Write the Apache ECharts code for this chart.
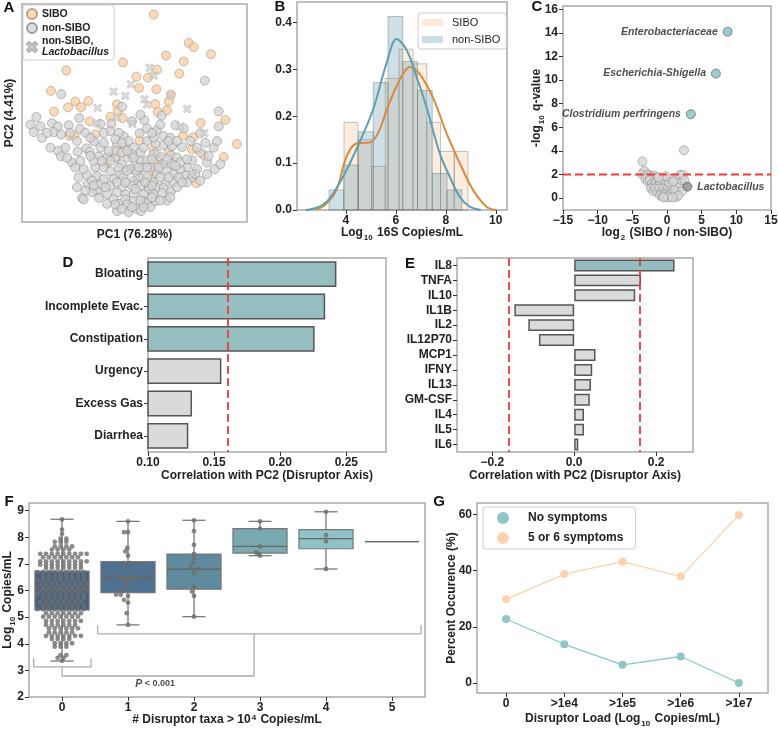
<!DOCTYPE html>
<html>
<head>
<meta charset="utf-8">
<title>Disruptor taxa panels</title>
<script src="https://cdn.jsdelivr.net/npm/echarts@6/dist/echarts.min.js"></script>
<style>
  html, body { margin: 0; padding: 0; background: #fff; }
  #chart { width: 778px; height: 731px; }
</style>
</head>
<body>
<div id="chart"></div>
<script>
// ---------- data ----------
// A: PCoA scores (no units on the original axes, so kept in panel units)
const pcaSibo = [[460,37],[565,123],[580,136],[632,157],[497,161],[368,182],[550,179],[198,206],[408,225],[470,204],[537,216],[443,228],[152,268],[416,259],[468,263],[512,279],[505,300],[225,300],[264,299],[161,331],[203,318],[242,318],[350,309],[465,308],[500,327],[353,328],[472,332],[675,356],[601,365],[330,346],[367,350],[268,360],[207,404],[222,404],[285,400],[548,404],[578,409],[710,429],[418,418],[373,440],[460,445],[575,445],[505,452],[610,462],[670,468],[350,466],[320,486],[470,478],[462,510],[588,547],[455,537],[446,557]];
const pcaNonSibo = [[613,237],[183,278],[655,330],[484,343],[108,347],[90,370],[100,393],[155,366],[172,375],[160,393],[182,400],[237,350],[239,383],[300,368],[333,368],[365,316],[432,357],[440,382],[470,386],[490,405],[525,372],[550,382],[510,410],[600,396],[655,376],[418,396],[370,405],[350,430],[385,420],[440,420],[490,432],[515,435],[545,438],[466,428],[258,442],[268,452],[232,452],[195,440],[173,450],[182,466],[215,485],[295,466],[322,468],[345,470],[363,490],[382,470],[405,490],[420,478],[440,478],[480,468],[512,463],[530,470],[575,478],[560,500],[590,505],[643,505],[285,500],[310,500],[330,512],[360,520],[390,505],[410,515],[430,500],[450,500],[470,520],[500,510],[520,520],[540,505],[555,525],[575,530],[260,522],[290,526],[340,535],[370,530],[400,540],[420,530],[460,545],[495,545],[520,545],[560,545],[262,550],[300,552],[330,556],[365,560],[395,556],[420,556],[445,566],[470,562],[490,562],[512,572],[290,572],[320,580],[350,576],[375,582],[400,580],[430,582],[460,580],[485,577],[245,592],[296,592],[340,596],[375,596],[400,602],[430,602],[465,602],[500,600],[350,632],[380,612],[410,626],[422,632],[440,607],[250,596],[205,372],[125,410],[330,390],[355,395],[400,440],[460,410],[420,455],[300,440],[280,480],[240,480],[250,505],[345,450],[365,455],[395,460],[460,460],[485,490],[515,490],[540,485],[620,485],[600,455],[640,440],[395,360],[420,340],[280,420],[310,425],[230,420],[330,480],[380,510],[440,530],[350,545],[310,535],[275,540],[480,530],[535,530],[420,600],[450,620],[385,635],[355,610],[320,610],[275,575],[230,560],[505,420],[530,420],[570,420],[480,370],[455,395],[430,440],
  [270,465],[305,480],[355,500],[375,545],[405,565],[435,545],[455,555],[480,600],[510,590],[530,560],[545,545],[585,520],[600,540],[620,520],[345,612],[365,625],[395,620],[430,620],[455,590],[315,560],[280,555],[255,570],[235,530],[225,500],[200,470],[150,440],[140,395],[120,375],[210,395],[255,395],[270,410],[310,395],[345,415],[365,425],[455,475],[500,475],[525,495],[560,475],[590,440],[625,465],[660,490],[650,420],[615,425],[400,470],[380,450],[440,500],[475,500],[505,530],[415,500],[325,450]];
const pcaLacto = [[448,198],[460,222],[392,248],[340,270],[375,283],[432,293],[440,310],[510,283],[292,320],[560,323],[290,366],[396,368],[540,375],[612,396],[470,456],[492,490],[576,522],[410,530],[388,500],[350,350]];

// B: 16S load histograms (density) and KDE curves
const siboBinEdges = [3.93, 4.48, 5.03, 5.58, 6.13, 6.69, 7.24, 7.79, 8.34, 8.89];
const siboDensity = [0.187, 0.15, 0.093, 0.281, 0.343, 0.312, 0.187, 0.125, 0.125];
const nonSiboBinEdges = [3.33, 3.92, 4.51, 5.10, 5.69, 6.28, 6.87, 7.46, 8.05, 8.64];
const nonSiboDensity = [0.043, 0.096, 0.167, 0.272, 0.413, 0.317, 0.255, 0.078, 0.043];
const siboKdeX = [2.8, 3.2, 3.63, 4.03, 4.43, 4.96, 5.29, 5.69, 6.16, 6.56, 6.96, 7.49, 8.03, 8.56, 9.09, 9.63, 10.0];
const siboKdeY = [0, 0.012, 0.043, 0.114, 0.142, 0.144, 0.164, 0.221, 0.278, 0.305, 0.29, 0.24, 0.164, 0.1, 0.043, 0.007, 0];
const nonSiboKdeX = [2.4, 2.9, 3.36, 3.96, 4.53, 5.09, 5.63, 6.03, 6.43, 6.83, 7.23, 7.76, 8.16, 8.56, 8.96, 9.4];
const nonSiboKdeY = [0, 0.006, 0.025, 0.078, 0.142, 0.214, 0.313, 0.365, 0.342, 0.285, 0.22, 0.121, 0.071, 0.028, 0.007, 0];

// C: volcano plot
const hitNames = ['Enterobacteriaceae', 'Escherichia-Shigella', 'Clostridium perfringens'];
const hitLog2 = [8.75, 7.05, 3.44];
const hitQ = [14.1, 10.55, 7.1];
const lactoPoint = [2.95, 0.96];
const volcanoOther = [[2.45,4.05],[-3.55,3.1],[-3.3,2.3],[-3.6,2.0],[-3.0,1.9],[-2.7,2.0],[-2.4,1.9],[-2.1,1.8],[-1.8,1.9],[-1.5,1.7],[-3.1,1.6],[-2.8,1.4],[-2.5,1.5],[-2.2,1.2],[-1.9,1.1],[-1.6,1.3],[-1.3,1.1],[-1.0,1.3],[-0.7,1.2],[-0.4,1.5],[-0.1,1.2],[-2.3,0.8],[-2.0,0.6],[-1.7,0.8],[-1.4,0.5],[-1.1,0.8],[-0.8,0.5],[-0.5,0.8],[-0.2,0.5],[0.1,0.8],[0.4,0.6],[0.7,1.0],[-1.0,0.2],[-0.6,0.15],[-0.3,0.3],[0.0,0.1],[0.3,0.2],[0.6,0.35],[0.9,0.1],[1.2,0.3],[1.5,0.6],[1.8,1.0],[2.1,1.5],[1.9,1.95],[2.3,1.95],[2.5,1.5],[1.1,0.7],[1.4,0.1],[0.3,1.3],[0.6,1.6],[-0.2,1.85],[0.9,1.4],[-1.2,1.75],[2.2,0.6],[1.6,0.2],[0.1,0.05],[-0.5,0.05],[0.8,0.05]];
const qThreshold = 2;

// D: symptoms vs PC2
const symptoms = ['Bloating', 'Incomplete Evac.', 'Constipation', 'Urgency', 'Excess Gas', 'Diarrhea'];
const symptomCorr = [0.2425, 0.234, 0.226, 0.1555, 0.1333, 0.1305];
const symptomThreshold = 0.16;

// E: cytokines vs PC2
const cytokines = ['IL8', 'TNFA', 'IL10', 'IL1B', 'IL2', 'IL12P70', 'MCP1', 'IFNY', 'IL13', 'GM-CSF', 'IL4', 'IL5', 'IL6'];
const cytoCorr = [0.245, 0.163, 0.149, -0.146, -0.112, -0.086, 0.052, 0.044, 0.041, 0.038, 0.024, 0.024, 0.01];
const cytoThreshold = 0.164;

// F: load by number of disruptor taxa  [group, low whisker, q1, median, q3, high whisker]
const boxStats = [
  [0, 3.35, 5.27, 6.03, 6.73, 8.68],
  [1, 4.71, 5.92, 6.49, 7.09, 8.6],
  [2, 5.02, 6.05, 6.8, 7.37, 8.64],
  [3, 7.31, 7.41, 7.66, 8.33, 8.6],
  [4, 6.81, 7.57, 7.95, 8.29, 8.96],
  [5, 7.84, 7.84, 7.84, 7.84, 7.84]
];
// group 0 swarm as rows: [value, number of dots in the row]
const swarm0Rows = [[8.67,1],[8.29,1],[8.13,1],[7.95,2],[7.83,3],[7.66,4],[7.54,4],[7.38,9],[7.25,7],[7.1,9],[6.97,8],[6.85,7],[6.69,9],[6.53,8],[6.4,9],[6.25,9],[6.11,9],[5.99,9],[5.84,9],[5.71,8],[5.56,8],[5.43,8],[5.3,9],[5.15,7],[5.02,7],[4.86,7],[4.71,6],[4.58,6],[4.43,5],[4.3,7],[4.18,4],[4.02,4],[3.89,3],[3.57,2],[3.47,2],[3.36,1]];
const swarmOther = [[1,8.6],[0.94,8.19],[1.0,8.19],[0.99,7.6],[0.96,7.47],[1.0,7.31],[0.94,7.03],[1.04,7.03],[0.97,6.88],[0.89,6.5],[0.96,6.45],[1.01,6.5],[1.06,6.5],[1.11,6.48],[0.94,6.4],[1.0,6.28],[0.96,6.13],[0.89,6.0],[0.82,5.85],[0.89,5.84],[1.0,5.8],[0.94,5.65],[1.0,5.55],[0.98,5.15],[1.0,4.71],
  [2,8.64],[2,8.23],[2,7.72],[2,7.38],[2,7.22],[1.98,7.03],[1.95,6.85],[2.05,6.82],[2,6.66],[2,6.15],[1.97,5.96],[2.0,5.8],[2,5.02],
  [3,8.6],[3,8.33],[3,7.66],[2.94,7.43],[2.98,7.37],[3,7.31],
  [4,8.96],[4,8.08],[4,7.85],[4,6.81]];
const bracketLeft = [[-0.43,3.45],[-0.43,3.13],[0.44,3.13],[0.44,3.45]];
const bracketRight = [[0.54,4.7],[0.54,4.37],[5.44,4.37],[5.44,4.7]];
const bracketLink = [[0,3.13],[0,2.79],[2.91,2.79],[2.91,4.37]];

// G: symptom occurrence by disruptor load
const loads = ['0', '>1e4', '>1e5', '>1e6', '>1e7'];
const noSymptoms = [22.8, 13.8, 6.5, 9.45, 0];
const fiveSixSymptoms = [29.8, 38.8, 43.2, 37.9, 59.8];

// ---------- styles ----------
const font = 'Liberation Sans, Arial, sans-serif';
const teal = '#96bec1';
const lightGrey = '#d9dadc';
const red = '#f03a3a';
const boxFills = ['#40618a', '#4f7190', '#608b9e', '#78a8b0', '#8fc2c4', '#8fc2c4'];
const nameRich = {
  b: { fontSize: 12, fontWeight: 'bold', fontFamily: font, color: '#222', lineHeight: 14, verticalAlign: 'top' },
  s: { fontSize: 8, fontWeight: 'bold', fontFamily: font, color: '#222', lineHeight: 8, verticalAlign: 'top', padding: [7, 1, 0, 1] },
  p: { fontSize: 8, fontWeight: 'bold', fontFamily: font, color: '#222', lineHeight: 8, verticalAlign: 'top', padding: [0, 1, 0, 1] }
};
const nameStyle = { fontSize: 12, fontWeight: 'bold', fontFamily: font, color: '#222', rich: nameRich };

function grid(left, top, width, height) {
  return { left, top, width, height, show: true, borderColor: '#aaa', borderWidth: 1.5, containLabel: false, outerBoundsMode: 'none' };
}

function valueAxis(gridIndex, min, max, ticks, extra, fmt) {
  return Object.assign({
    type: 'value', gridIndex, min, max,
    axisLine: { show: false, onZero: false },
    splitLine: { show: false },
    axisTick: { show: true, length: 4, lineStyle: { color: '#333' }, customValues: ticks },
    axisLabel: { customValues: ticks, fontSize: 12, fontWeight: 'bold', fontFamily: font, color: '#222', margin: 5, formatter: fmt },
    nameLocation: 'middle', nameTextStyle: nameStyle, nameMoveOverlap: false
  }, extra || {});
}

function categoryAxis(gridIndex, data, extra) {
  return Object.assign({
    type: 'category', gridIndex, data,
    axisLine: { show: false, onZero: false },
    splitLine: { show: false },
    axisTick: { show: true, alignWithLabel: true, interval: 0, length: 4, lineStyle: { color: '#333' } },
    axisLabel: { interval: 0, fontSize: 12, fontWeight: 'bold', fontFamily: font, color: '#222', margin: 5 },
    nameLocation: 'middle', nameTextStyle: nameStyle, nameMoveOverlap: false
  }, extra || {});
}

const minus = v => (v < 0 ? '\u2212' + Math.abs(v) : String(v));
const fixed = d => v => (v < 0 ? '\u2212' + Math.abs(v).toFixed(d) : v.toFixed(d));

// histogram bar from [x0, x1, height]
function histItem(fill) {
  return function (params, api) {
    const a = api.coord([api.value(0), api.value(2)]);
    const b = api.coord([api.value(1), 0]);
    return { type: 'rect', shape: { x: a[0], y: a[1], width: b[0] - a[0], height: b[1] - a[1] },
      style: { fill, stroke: 'rgba(90,90,90,0.35)', lineWidth: 1 } };
  };
}

// seaborn-like box
function boxItem(params, api) {
  const i = api.value(0), lo = api.value(1), q1 = api.value(2), med = api.value(3), q3 = api.value(4), hi = api.value(5);
  const half = 0.41, cap = 0.175;
  const tl = api.coord([i - half, q3]), br = api.coord([i + half, q1]);
  const m0 = api.coord([i - half, med]), m1 = api.coord([i + half, med]);
  const top = api.coord([i, hi]), bot = api.coord([i, lo]);
  const ct0 = api.coord([i - cap, hi]), ct1 = api.coord([i + cap, hi]);
  const cb0 = api.coord([i - cap, lo]), cb1 = api.coord([i + cap, lo]);
  const line = { stroke: '#7a7a7a', lineWidth: 1.3 };
  const children = [
    { type: 'line', shape: { x1: top[0], y1: top[1], x2: top[0], y2: tl[1] }, style: line },
    { type: 'line', shape: { x1: bot[0], y1: br[1], x2: bot[0], y2: bot[1] }, style: line },
    { type: 'rect', shape: { x: tl[0], y: tl[1], width: br[0] - tl[0], height: br[1] - tl[1] },
      style: { fill: boxFills[i], stroke: '#777', lineWidth: 1.2 } },
    { type: 'line', shape: { x1: m0[0], y1: m0[1], x2: m1[0], y2: m1[1] }, style: { stroke: '#666', lineWidth: 1.3 } }
  ];
  if (hi > q3) children.push({ type: 'line', shape: { x1: ct0[0], y1: ct0[1], x2: ct1[0], y2: ct1[1] }, style: line });
  if (lo < q1) children.push({ type: 'line', shape: { x1: cb0[0], y1: cb0[1], x2: cb1[0], y2: cb1[1] }, style: line });
  return { type: 'group', children };
}

// spread each swarm row sideways, staggering alternate rows
const swarmStep = 0.088;
const swarm0 = [];
swarm0Rows.forEach(([y, n], r) => {
  const shift = (r % 2 ? 0.5 : -0.5) * swarmStep / 2;
  for (let k = 0; k < n; k++) swarm0.push([(k - (n - 1) / 2) * swarmStep + (n > 1 ? shift : 0), y]);
});

const crossPath = 'path://M2,0 L5,3 L8,0 L10,2 L7,5 L10,8 L8,10 L5,7 L2,10 L0,8 L3,5 L0,2 Z';
const letter = (t, x, y) => ({ type: 'text', x, y, style: { text: t, fontSize: 15, fontWeight: 'bold', fontFamily: font, fill: '#111', align: 'center', verticalAlign: 'middle' } });

const chart = echarts.init(document.getElementById('chart'));
chart.setOption({
  animation: false,
  backgroundColor: '#fff',
  textStyle: { fontFamily: font },
  grid: [
    grid(22, 4, 225, 218),    // A
    grid(297, 2, 210, 208),   // B
    grid(563, 6, 208, 204),   // C
    grid(148, 258, 238, 194), // D
    grid(457, 258, 236, 194), // E
    grid(29, 503, 396, 194),  // F
    grid(477, 503, 291, 190)  // G
  ],
  xAxis: [
    valueAxis(0, 65, 740, [], { axisTick: { show: false }, axisLabel: { show: false }, name: 'PC1 (76.28%)', nameGap: 7 }),
    valueAxis(1, 2.05, 10.45, [4, 6, 8, 10], { name: '{b|Log}{s|10}{b| 16S Copies/mL}', nameGap: 17 }),
    valueAxis(2, -15, 15, [-15, -10, -5, 0, 5, 10, 15], { name: '{b|log}{s|2}{b| (SIBO / non-SIBO)}', nameGap: 17 }, minus),
    valueAxis(3, 0.1, 0.28, [0.1, 0.15, 0.2, 0.25], { name: 'Correlation with PC2 (Disruptor Axis)', nameGap: 18 }, fixed(2)),
    valueAxis(4, -0.286, 0.29, [-0.2, 0, 0.2], { name: 'Correlation with PC2 (Disruptor Axis)', nameGap: 18 }, fixed(1)),
    valueAxis(5, -0.5, 5.5, [0, 1, 2, 3, 4, 5], { name: '{b|# Disruptor taxa > 10}{p|4}{b| Copies/mL}', nameGap: 17 }),
    categoryAxis(6, loads, { name: '{b|Disruptor Load (Log}{s|10}{b| Copies/mL)}', nameGap: 20 })
  ],
  yAxis: [
    valueAxis(0, 5, 665, [], { inverse: true, axisTick: { show: false }, axisLabel: { show: false }, name: 'PC2 (4.41%)', nameGap: 6, nameRotate: 90 }),
    valueAxis(1, 0, 0.444, [0, 0.1, 0.2, 0.3, 0.4], null, fixed(1)),
    valueAxis(2, -1.02, 16.28, [0, 2, 4, 6, 8, 10, 12, 14, 16], { name: '{b|-log}{s|10}{b| q-value}', nameGap: 18, nameRotate: 90 }),
    categoryAxis(3, symptoms, { inverse: true }),
    categoryAxis(4, cytokines, { inverse: true }),
    valueAxis(5, 2, 9.29, [2, 3, 4, 5, 6, 7, 8, 9], { name: '{b|Log}{s|10}{b| Copies/mL}', nameGap: 13, nameRotate: 90 }),
    valueAxis(6, -3.55, 64.1, [0, 20, 40, 60], { name: 'Percent Occurence (%)', nameGap: 19, nameRotate: 90 })
  ],
  legend: [
    {
      left: 23, top: 5, orient: 'vertical', itemGap: 2, itemWidth: 10, itemHeight: 10,
      padding: [3, 5, 2, 3], borderColor: '#ccc', borderWidth: 1, borderRadius: 3, backgroundColor: 'rgba(255,255,255,0.85)',
      data: ['SIBO', 'non-SIBO', 'non-SIBO, Lactobacillus'],
      formatter: n => (n === 'non-SIBO, Lactobacillus' ? 'non-SIBO,\n{i|Lactobacillus}' : n),
      textStyle: { fontSize: 10.5, fontWeight: 'bold', color: '#222', lineHeight: 11,
        rich: { i: { fontSize: 10.5, fontWeight: 'bold', fontStyle: 'italic', color: '#222', lineHeight: 11 } } }
    },
    {
      left: 418, top: 13, orient: 'vertical', itemGap: 6, itemWidth: 21, itemHeight: 7, icon: 'rect',
      padding: [4, 6, 4, 4], borderColor: '#ccc', borderWidth: 1, borderRadius: 3,
      data: ['SIBO (hist)', 'non-SIBO (hist)'],
      formatter: n => '{g|}' + n.replace(' (hist)', ''),
      textStyle: { fontSize: 11, fontWeight: 'normal', color: '#222', rich: { g: { width: 4 } } }
    },
    {
      left: 483, top: 507, orient: 'vertical', itemGap: 8, itemWidth: 12, itemHeight: 12, icon: 'circle',
      padding: [5, 12, 5, 14], borderColor: '#ccc', borderWidth: 1, borderRadius: 3,
      data: ['No symptoms', '5 or 6 symptoms'],
      formatter: n => '{g|}' + n,
      textStyle: { fontSize: 12, fontWeight: 'bold', color: '#222', rich: { g: { width: 14 } } }
    }
  ],
  series: [
    // A
    { type: 'scatter', name: 'SIBO', xAxisIndex: 0, yAxisIndex: 0, data: pcaSibo, symbolSize: 9,
      itemStyle: { color: '#f9cfa7', borderColor: '#a8907a', borderWidth: 0.7 } },
    { type: 'scatter', name: 'non-SIBO', xAxisIndex: 0, yAxisIndex: 0, data: pcaNonSibo, symbolSize: 9,
      itemStyle: { color: '#d4d4d4', borderColor: '#8a8a8a', borderWidth: 0.7 } },
    { type: 'scatter', name: 'non-SIBO, Lactobacillus', xAxisIndex: 0, yAxisIndex: 0, data: pcaLacto, symbol: crossPath, symbolSize: 8,
      itemStyle: { color: '#d6d6d6', borderColor: '#a5a5a5', borderWidth: 0.7 } },
    // B
    { type: 'custom', name: 'SIBO (hist)', xAxisIndex: 1, yAxisIndex: 1, renderItem: histItem('rgba(246,196,150,0.3)'),
      itemStyle: { color: 'rgba(246,196,150,0.35)' }, encode: { x: [0, 1], y: 2 },
      data: siboDensity.map((h, i) => [siboBinEdges[i], siboBinEdges[i + 1], h]) },
    { type: 'custom', name: 'non-SIBO (hist)', xAxisIndex: 1, yAxisIndex: 1, renderItem: histItem('rgba(110,158,178,0.33)'),
      itemStyle: { color: 'rgba(110,158,178,0.35)' }, encode: { x: [0, 1], y: 2 },
      data: nonSiboDensity.map((h, i) => [nonSiboBinEdges[i], nonSiboBinEdges[i + 1], h]) },
    { type: 'line', name: 'SIBO kde', xAxisIndex: 1, yAxisIndex: 1, showSymbol: false, smooth: 0.35,
      lineStyle: { color: '#d98a3d', width: 2 }, data: siboKdeX.map((x, i) => [x, siboKdeY[i]]) },
    { type: 'line', name: 'non-SIBO kde', xAxisIndex: 1, yAxisIndex: 1, showSymbol: false, smooth: 0.35,
      lineStyle: { color: '#5f9fb4', width: 2 }, data: nonSiboKdeX.map((x, i) => [x, nonSiboKdeY[i]]) },
    // C
    { type: 'scatter', name: 'volcano', xAxisIndex: 2, yAxisIndex: 2, data: volcanoOther, symbolSize: 9,
      itemStyle: { color: '#d6d6d6', borderColor: '#8a8a8a', borderWidth: 0.7 } },
    { type: 'line', name: 'q cut', xAxisIndex: 2, yAxisIndex: 2, showSymbol: false, z: 3,
      lineStyle: { color: red, width: 2, type: [8, 4] }, data: [[-15, qThreshold], [15, qThreshold]] },
    { type: 'scatter', name: 'hits', xAxisIndex: 2, yAxisIndex: 2, symbolSize: 9, z: 4,
      itemStyle: { color: '#86bfc2', borderColor: '#555', borderWidth: 0.8 },
      label: { show: true, position: 'left', distance: 5, formatter: p => p.name, fontSize: 10.5, fontWeight: 'bold', fontStyle: 'italic', color: '#222' },
      data: hitNames.map((n, i) => ({ name: n, value: [hitLog2[i], hitQ[i]] })) },
    { type: 'scatter', name: 'lacto', xAxisIndex: 2, yAxisIndex: 2, symbolSize: 9, z: 4,
      itemStyle: { color: '#8c8c8c', borderColor: '#555', borderWidth: 0.8 },
      label: { show: true, position: 'right', distance: 5, formatter: 'Lactobacillus', fontSize: 10.5, fontWeight: 'bold', fontStyle: 'italic', color: '#222' },
      data: [lactoPoint] },
    // D
    { type: 'bar', name: 'symptoms', xAxisIndex: 3, yAxisIndex: 3, barWidth: '80%',
      data: symptomCorr.map(v => ({ value: v, itemStyle: { color: v > symptomThreshold ? teal : lightGrey } })),
      itemStyle: { borderColor: '#555', borderWidth: 1.5 },
      markLine: { silent: true, symbol: 'none', label: { show: false }, lineStyle: { color: red, width: 1.8, type: [8, 4] },
        data: [{ xAxis: symptomThreshold }] } },
    // E
    { type: 'bar', name: 'cytokines', xAxisIndex: 4, yAxisIndex: 4, barWidth: '80%',
      data: cytoCorr.map(v => ({ value: v, itemStyle: { color: Math.abs(v) > cytoThreshold ? teal : lightGrey } })),
      itemStyle: { borderColor: '#555', borderWidth: 1.5 },
      markLine: { silent: true, symbol: 'none', label: { show: false }, lineStyle: { color: red, width: 1.8, type: [8, 4] },
        data: [{ xAxis: -cytoThreshold }, { xAxis: cytoThreshold }] } },
    // F
    { type: 'custom', name: 'boxes', xAxisIndex: 5, yAxisIndex: 5, renderItem: boxItem, encode: { x: 0, y: [1, 2, 3, 4, 5] }, data: boxStats },
    { type: 'scatter', name: 'swarm', xAxisIndex: 5, yAxisIndex: 5, symbolSize: 4.8, z: 3,
      itemStyle: { color: '#6e6e6e', opacity: 0.8 }, data: swarm0.concat(swarmOther) },
    ...[bracketLeft, bracketRight, bracketLink].map(b => ({
      type: 'line', xAxisIndex: 5, yAxisIndex: 5, showSymbol: false, lineStyle: { color: '#ababab', width: 1.3 }, data: b })),
    { type: 'scatter', name: 'p', xAxisIndex: 5, yAxisIndex: 5, symbolSize: 0, data: [[1.41, 2.5]],
      label: { show: true, position: 'inside', formatter: '{i|P}{n| < 0.001}',
        rich: { i: { fontSize: 10.5, fontWeight: 'bold', fontStyle: 'italic', color: '#222' }, n: { fontSize: 9, fontWeight: 'bold', color: '#222' } } } },
    // G
    { type: 'line', name: 'No symptoms', xAxisIndex: 6, yAxisIndex: 6, data: noSymptoms, symbol: 'circle', symbolSize: 8,
      lineStyle: { color: '#8ec6c8', width: 1.3 }, itemStyle: { color: '#8ec6c8' } },
    { type: 'line', name: '5 or 6 symptoms', xAxisIndex: 6, yAxisIndex: 6, data: fiveSixSymptoms, symbol: 'circle', symbolSize: 8,
      lineStyle: { color: '#fdd2ae', width: 1.3 }, itemStyle: { color: '#fdd2ae' } }
  ],
  graphic: [
    letter('A', 9, 8), letter('B', 280, 7), letter('C', 537, 7), letter('D', 68, 263),
    letter('E', 410, 264), letter('F', 9, 502), letter('G', 439, 502)
  ]
});
</script>
</body>
</html>
